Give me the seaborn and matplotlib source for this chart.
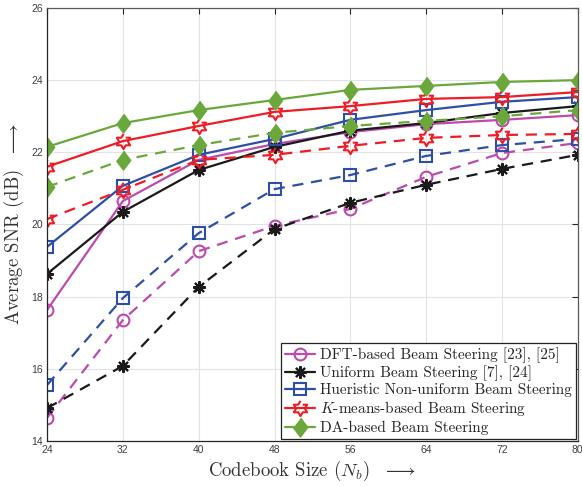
import numpy as np
import pandas as pd
import matplotlib
matplotlib.use("Agg")
import matplotlib.pyplot as plt
import seaborn as sns

sns.set_style("whitegrid")
plt.rcParams["font.family"] = ["Liberation Sans", "DejaVu Sans"]
plt.rcParams["mathtext.fontset"] = "cm"

# codebook sizes
nb = [24, 32, 40, 48, 56, 64, 72, 80]

# solid curves
dft = [17.63, 20.65, 21.79, 22.23, 22.56, 22.78, 22.90, 23.03]
uni = [18.63, 20.35, 21.51, 22.15, 22.60, 22.81, 23.09, 23.28]
heu = [19.38, 21.07, 21.93, 22.37, 22.90, 23.17, 23.40, 23.53]
kmn = [21.60, 22.31, 22.73, 23.12, 23.28, 23.48, 23.53, 23.67]
da = [22.15, 22.81, 23.17, 23.45, 23.73, 23.84, 23.95, 24.00]

# dashed curves
dft_d = [14.64, 17.35, 19.26, 19.96, 20.43, 21.32, 21.98, 22.26]
uni_d = [14.91, 16.08, 18.27, 19.87, 20.60, 21.10, 21.54, 21.93]
heu_d = [15.55, 17.96, 19.76, 20.98, 21.37, 21.90, 22.20, 22.37]
kmn_d = [20.15, 20.96, 21.79, 21.93, 22.18, 22.40, 22.48, 22.51]
da_d = [21.04, 21.79, 22.20, 22.54, 22.73, 22.87, 23.00, 23.17]

labels = ["DFT-based Beam Steering [23], [25]",
          "Uniform Beam Steering [7], [24]",
          "Hueristic Non-uniform Beam Steering",
          r"$K$-means-based Beam Steering",
          "DA-based Beam Steering"]

# hexagram and diamond marker shapes
ang = np.deg2rad(90 + 30 * np.arange(12))
rad = np.where(np.arange(12) % 2 == 0, 1.0, 1 / np.sqrt(3))
hexagram = list(zip(rad * np.cos(ang), rad * np.sin(ang)))
diamond = [(0, 1), (0.75, 0), (0, -1), (-0.75, 0)]

styles = [
    dict(color="#bd4aae", marker="o", ms=8.5, mfc="none"),
    dict(color="#1a1a1a", marker=(8, 2, 0), ms=9, mfc="none"),
    dict(color="#2e4fa6", marker="s", ms=8.5, mfc="none"),
    dict(color="#ee1c24", marker=hexagram, ms=11, mfc="none"),
    dict(color="#6aa83c", marker=diamond, ms=13, mfc="#6aa83c"),
]

fig = plt.figure(figsize=(5.82, 4.86), dpi=100)
ax = fig.add_axes([0.0808, 0.0926, 0.912, 0.891])

handles = []
for sol, das, lab, st in zip([dft, uni, heu, kmn, da],
                             [dft_d, uni_d, heu_d, kmn_d, da_d], labels, styles):
    for ys, ls in [(das, (0, (5, 3.5))), (sol, "-")]:
        sns.lineplot(x=nb, y=ys, ax=ax, color=st["color"], linestyle=ls, lw=1.6,
                     marker=st["marker"], markersize=st["ms"],
                     markerfacecolor=st["mfc"], markeredgecolor=st["color"],
                     markeredgewidth=1.5, legend=False)
    handles.append(ax.lines[-1])

ax.set_xlim(24, 80)
ax.set_ylim(14, 26)
ax.set_xticks(nb)
ax.set_yticks([14, 16, 18, 20, 22, 24, 26])
ax.grid(True, color="#e3e3e3", lw=0.8)
ax.tick_params(axis="both", labelsize=7.5, colors="#262626", labelcolor="#404040",
               direction="in", length=4, width=0.8, top=True, right=True, pad=3)
for s in ["left", "bottom"]:
    ax.spines[s].set_color("#262626")
for s in ["top", "right"]:
    ax.spines[s].set_color("#5a5a5a")
for s in ax.spines.values():
    s.set_linewidth(0.9)

ax.set_xlabel(r"Codebook Size $(N_b)$  $\longrightarrow$", fontfamily="cmr10",
              fontsize=13.5, color="#333333", labelpad=3)
ax.set_ylabel(r"Average SNR (dB)  $\longrightarrow$", fontfamily="cmr10",
              fontsize=13.5, color="#333333", labelpad=4)

leg = ax.legend(handles=handles, labels=labels, loc="lower right",
                prop={"family": "cmr10", "size": 11}, frameon=True,
                fancybox=False, edgecolor="#222222", framealpha=1,
                handlelength=2.0, handletextpad=0.3, borderpad=0.25,
                labelspacing=0.15, borderaxespad=0.15)
leg.get_frame().set_linewidth(0.9)

fig.savefig("out.png", dpi=100)
